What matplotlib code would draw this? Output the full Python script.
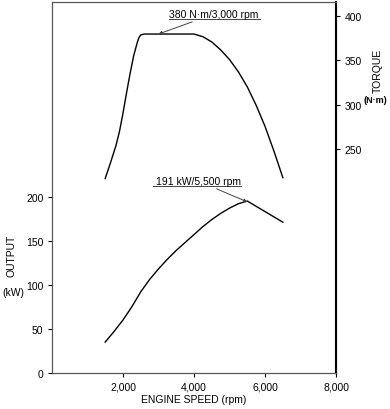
import matplotlib.pyplot as plt

plt.rcParams['font.family'] = ['Liberation Sans', 'DejaVu Sans']

# engine speed (rpm) and torque (N·m)
torque_rpm = [1500, 1650, 1800, 1900, 2000, 2100, 2200, 2300, 2400, 2450, 2500, 2600,
              3000, 3500, 3800, 4000, 4250, 4500, 4750, 5000, 5250, 5500, 5750,
              6000, 6250, 6500]
torque_nm = [216, 234, 253, 269, 290, 313, 335, 355, 370, 376, 379, 380,
             380, 380, 380, 380, 377, 371, 362, 351, 337, 320, 299,
             275, 247, 217]

# engine speed (rpm) and output (kW)
power_rpm = [1500, 1750, 2000, 2250, 2500, 2750, 3000, 3250, 3500, 3750, 4000,
             4250, 4500, 4750, 5000, 5250, 5500, 5750, 6000, 6250, 6500]
power_kw = [35, 47, 60, 75, 92, 106, 118, 129, 139, 148, 157,
            166, 174, 181, 187, 192, 195, 189, 183, 177, 171]

x_ticks = [2000, 4000, 6000, 8000]
x_labels = ['2,000', '4,000', '6,000', '8,000']
left_ticks = [0, 50, 100, 150, 200]
right_ticks = [250, 300, 350, 400]

fig = plt.figure(figsize=(3.9, 4.1), dpi=100)
ax = fig.add_axes([0.133, 0.088, 0.729, 0.905])
ax2 = ax.twinx()

ax.plot(power_rpm, power_kw, color='black', lw=1.0)
ax2.plot(torque_rpm, torque_nm, color='black', lw=1.0)

ax.set_xlim(0, 8000)
ax.set_ylim(0, 421)
ax2.set_ylim(-4.5, 416.5)

ax.set_xticks(x_ticks)
ax.set_xticklabels(x_labels)
ax.set_yticks(left_ticks)
ax2.set_yticks(right_ticks)

for a in (ax, ax2):
    a.tick_params(direction='out', length=3, width=0.8, labelsize=7.5, pad=3)
    for s in a.spines.values():
        s.set_color('#555555')
        s.set_linewidth(0.8)
ax2.spines['right'].set_color('black')
ax2.spines['right'].set_linewidth(1.5)
ax.spines['bottom'].set_color('black')

ax.set_xlabel('ENGINE SPEED (rpm)', fontsize=7.5, labelpad=2)

fig.text(0.03, 0.375, 'OUTPUT', rotation=90, fontsize=7.5, ha='center', va='center')
fig.text(0.035, 0.285, '(kW)', fontsize=7.5, ha='center', va='center')
fig.text(0.968, 0.826, 'TORQUE', rotation=90, fontsize=7.5, ha='center', va='center')
fig.text(0.962, 0.755, '(N·m)', fontsize=6.5, ha='center', va='center', fontweight='bold')

# peak torque annotation
ax2.annotate('380 N·m/3,000 rpm', xy=(3000, 380), xytext=(3300, 397),
             fontsize=7.5, ha='left', va='bottom',
             arrowprops=dict(arrowstyle='-|>', color='#444444', lw=0.7,
                             mutation_scale=5, shrinkA=0, shrinkB=0))
ax2.plot([3300, 5850], [397, 397], color='#444444', lw=0.7)

# peak output annotation
ax.annotate('191 kW/5,500 rpm', xy=(5500, 194), xytext=(5320, 212),
            fontsize=7.5, ha='right', va='bottom',
            arrowprops=dict(arrowstyle='-|>', color='#444444', lw=0.7,
                            mutation_scale=5, shrinkA=0, shrinkB=0))
ax.plot([2850, 5320], [212, 212], color='#444444', lw=0.7)

fig.savefig('out.png', dpi=100)
